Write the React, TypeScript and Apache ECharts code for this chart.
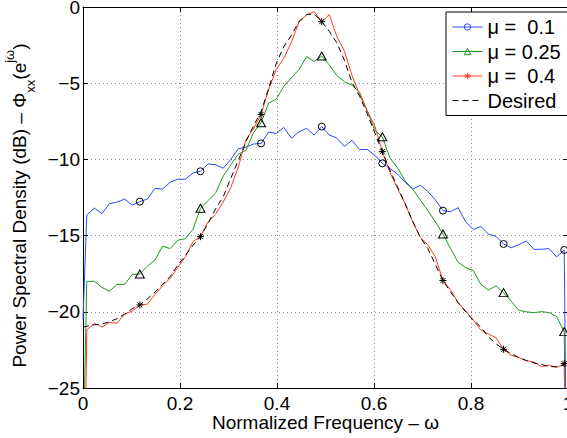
import React, { useEffect, useRef } from "react";
import * as echarts from "echarts";

// sampling grid: 0, odd k/128 (k = 1..127), 1
const freq: number[] = [0, ...Array.from({ length: 64 }, (_, i) => (2 * i + 1) / 128), 1];

const mu01: (number | null)[] = [
  -20.5,
  -13.65, -13.2, -13.55, -12.9, -12.8, -12.6, -13.0, -12.77, -12.6, -11.9, -11.95, -11.5, -11.3, -11.3, -10.9, -10.78,
  -10.3, -10.35, -10.58, -10.0, -9.3, -9.2, -8.99, -8.95, -8.2, -8.3, -7.9, -8.6, -8.2, -7.96, -8.4, -7.85,
  -8.4, -8.6, -9.15, -8.75, -9.35, -9.35, -9.72, -10.26, -10.6, -10.95, -11.5, -11.95, -11.7, -12.1, -12.66, -13.36,
  -13.43, -13.17, -14.1, -14.6, -14.4, -14.9, -15.05, -15.55, -15.8, -15.6, -15.35, -15.9, -15.9, -15.85, -16.4, -15.94,
  -40,
];

const mu025: (number | null)[] = [
  -30,
  -18.0, -18.0, -18.4, -18.65, -18.2, -18.2, -17.55, -17.52, -17.0, -16.6, -15.7, -15.85, -15.3, -15.2, -14.6, -13.21,
  -12.7, -12.2, -11.1, -10.35, -9.65, -9.4, -8.25, -7.59, -6.3, -6.05, -5.2, -4.65, -4.1, -3.26, -3.58, -3.22,
  -3.8, -4.5, -4.9, -5.12, -5.6, -6.8, -8.1, -8.51, -9.9, -10.55, -11.4, -11.95, -12.66, -13.35, -14.1, -14.9,
  -15.85, -16.75, -17.1, -17.3, -18.2, -18.57, -18.3, -18.74, -19.3, -19.9, -20.0, -20.06, -19.99, -20.05, -20.32, -21.3,
  -40,
];

const mu04: (number | null)[] = [
  -40,
  -21.19, -20.75, -21.0, -20.7, -20.75, -20.15, -19.95, -19.55, -19.5, -18.85, -18.3, -17.8, -17.1, -16.4, -15.4, -15.07,
  -14.1, -13.6, -12.8, -11.85, -10.5, -8.7, -8.0, -7.05, -5.4, -4.1, -3.37, -2.3, -1.0, -0.52, -0.3, -0.96,
  -0.5, -1.95, -2.9, -4.5, -5.75, -6.8, -7.8, -9.49, -10.85, -11.9, -12.9, -14.1, -15.1, -15.6, -16.4, -17.95,
  -18.55, -19.4, -19.95, -20.54, -21.2, -21.45, -21.7, -22.46, -22.85, -23.0, -23.2, -23.3, -23.6, -23.5, -23.65, -23.4,
  -40,
];

const desired: (number | null)[] = [
  -21.0,
  -20.95, -20.85, -20.8, -20.65, -20.45, -20.15, -19.8, -19.55, -19.15, -18.7, -18.2, -17.69, -16.95, -16.3, -15.65, -15.07,
  -14.2, -13.25, -12.45, -11.25, -10.05, -8.85, -7.8, -6.87, -5.35, -3.7, -2.6, -1.85, -0.95, -0.5, -0.45, -0.96,
  -1.6, -2.35, -3.5, -4.95, -5.85, -7.0, -8.25, -9.49, -10.7, -11.8, -12.9, -14.05, -15.1, -15.85, -16.9, -17.95,
  -18.7, -19.4, -20.0, -20.55, -21.0, -21.65, -22.1, -22.46, -22.75, -23.0, -23.2, -23.35, -23.45, -23.6, -23.6, -23.5,
  null,
];

const markerIdx = [8, 16, 24, 32, 40, 48, 56, 64];
const seriesNames = ["μ =\u00a0 0.1", "μ = 0.25", "μ =\u00a0 0.4", "Desired"];
const seriesColors = ["#2a48ff", "#1e961e", "#ff3c1e", "#000000"];

const FONT = "'Liberation Sans', Arial, Helvetica, sans-serif";
const circlePath = "path://M0,-5A5,5 0 1,1 0,5A5,5 0 1,1 0,-5Z";
const triPath = "path://M0,-5L5,4L-5,4Z";
const starPath = "path://M0,-5L0,5M-5,0L5,0M-3.6,-3.6L3.6,3.6M-3.6,3.6L3.6,-3.6";

function mkSeries(name: string, vals: (number | null)[], color: string, symbol: string, size: number | number[]) {
  return {
    name,
    type: "line",
    xAxisIndex: 0,
    yAxisIndex: 0,
    symbol,
    symbolSize: size,
    showSymbol: true,
    lineStyle: { color, width: 1 },
    itemStyle: { color: "rgba(0,0,0,0)", borderColor: color, borderWidth: 1 },
    emphasis: { disabled: true },
    data: vals.map((v, i) =>
      markerIdx.includes(i)
        ? {
            value: [freq[i], v],
            itemStyle: { color: "rgba(0,0,0,0)", borderColor: "#000", borderWidth: 1 },
          }
        : { value: [freq[i], v], symbol: "none" }
    ),
  };
}

const fmtNum = (v: number) => String(v).replace("-", "\u2212");

export default function App() {
  const ref = useRef<HTMLDivElement>(null);
  useEffect(() => {
    if (!ref.current) return;
    const chart = echarts.init(ref.current, undefined, { renderer: "svg" });
    const gridLine = { show: true, lineStyle: { color: "#8a8a8a", width: 1, type: [1, 3] } };
    const axLine = { show: true, onZero: false, lineStyle: { color: "#000", width: 1 } };
    const tick = { show: true, inside: true, length: 5, lineStyle: { color: "#000" } };
    chart.setOption({
      animation: false,
      backgroundColor: "#fff",
      grid: { left: 83, top: 7, width: 485, height: 381, containLabel: false, outerBoundsMode: "none" },
      xAxis: [
        {
          type: "value",
          min: 0,
          max: 1,
          interval: 0.2,
          position: "bottom",
          axisLine: axLine,
          axisTick: tick,
          splitLine: gridLine,
          axisLabel: { color: "#000", fontSize: 19, fontFamily: FONT, margin: 6, formatter: fmtNum },
          name: "Normalized Frequency \u2013 \u03c9",
          nameLocation: "middle",
          nameGap: 25,
          nameMoveOverlap: false,
          nameTextStyle: { color: "#000", fontSize: 19, fontFamily: FONT },
        },
        {
          type: "value",
          min: 0,
          max: 1,
          interval: 0.2,
          position: "top",
          axisLine: axLine,
          axisTick: tick,
          splitLine: { show: false },
          axisLabel: { show: false },
        },
      ],
      yAxis: [
        {
          type: "value",
          min: -25,
          max: 0,
          interval: 5,
          position: "left",
          axisLine: axLine,
          axisTick: tick,
          splitLine: gridLine,
          axisLabel: { color: "#000", fontSize: 19, fontFamily: FONT, margin: 3, formatter: fmtNum },
          name: "{a|Power Spectral Density (dB) \u2013 \u03a6}{s|xx}{a|(e}{p|j\u03c9}{a|)}",
          nameLocation: "middle",
          nameGap: 40,
          nameTextStyle: {
            color: "#000",
            fontSize: 19,
            fontFamily: FONT,
            padding: [0, 16, 0, 0],
            rich: {
              a: { fontSize: 19, fontFamily: FONT, color: "#000", lineHeight: 34 },
              s: { fontSize: 13, fontFamily: FONT, color: "#000", lineHeight: 13, verticalAlign: "bottom" },
              p: { fontSize: 13, fontFamily: FONT, color: "#000", lineHeight: 13, verticalAlign: "top" },
            },
          },
        },
        {
          type: "value",
          min: -25,
          max: 0,
          interval: 5,
          position: "right",
          axisLine: axLine,
          axisTick: tick,
          splitLine: { show: false },
          axisLabel: { show: false },
        },
      ],
      legend: {
        orient: "vertical",
        left: 446,
        top: 12,
        itemWidth: 30,
        itemHeight: 8,
        itemGap: 4.5,
        padding: [5, 7, 5, 6],
        borderColor: "#000",
        borderWidth: 1,
        borderRadius: 0,
        backgroundColor: "#fff",
        selectedMode: false,
        itemStyle: { borderWidth: 1 },
        lineStyle: { width: 1 },
        textStyle: { color: "#000", fontSize: 20, fontFamily: FONT },
        data: [
          { name: seriesNames[0] },
          { name: seriesNames[1] },
          { name: seriesNames[2] },
          { name: seriesNames[3], itemStyle: { color: "rgba(0,0,0,0)", borderColor: "rgba(0,0,0,0)", borderWidth: 0 } },
        ],
      },
      series: [
        mkSeries(seriesNames[0], mu01, seriesColors[0], circlePath, 7),
        mkSeries(seriesNames[1], mu025, seriesColors[1], triPath, [9, 8]),
        mkSeries(seriesNames[2], mu04, seriesColors[2], starPath, 7),
        {
          name: seriesNames[3],
          type: "line",
          symbol: "none",
          showSymbol: false,
          lineStyle: { color: seriesColors[3], width: 1, type: [6, 4] },
          itemStyle: { color: "rgba(0,0,0,0)", borderColor: "rgba(0,0,0,0)", borderWidth: 0 },
          emphasis: { disabled: true },
          data: desired.map((v, i) => [freq[i], v]),
        },
      ],
    });
    return () => chart.dispose();
  }, []);
  return (
    <div
      ref={ref}
      style={{ position: "fixed", left: 0, top: 0, width: 567, height: 438, background: "#fff" }}
    />
  );
}
